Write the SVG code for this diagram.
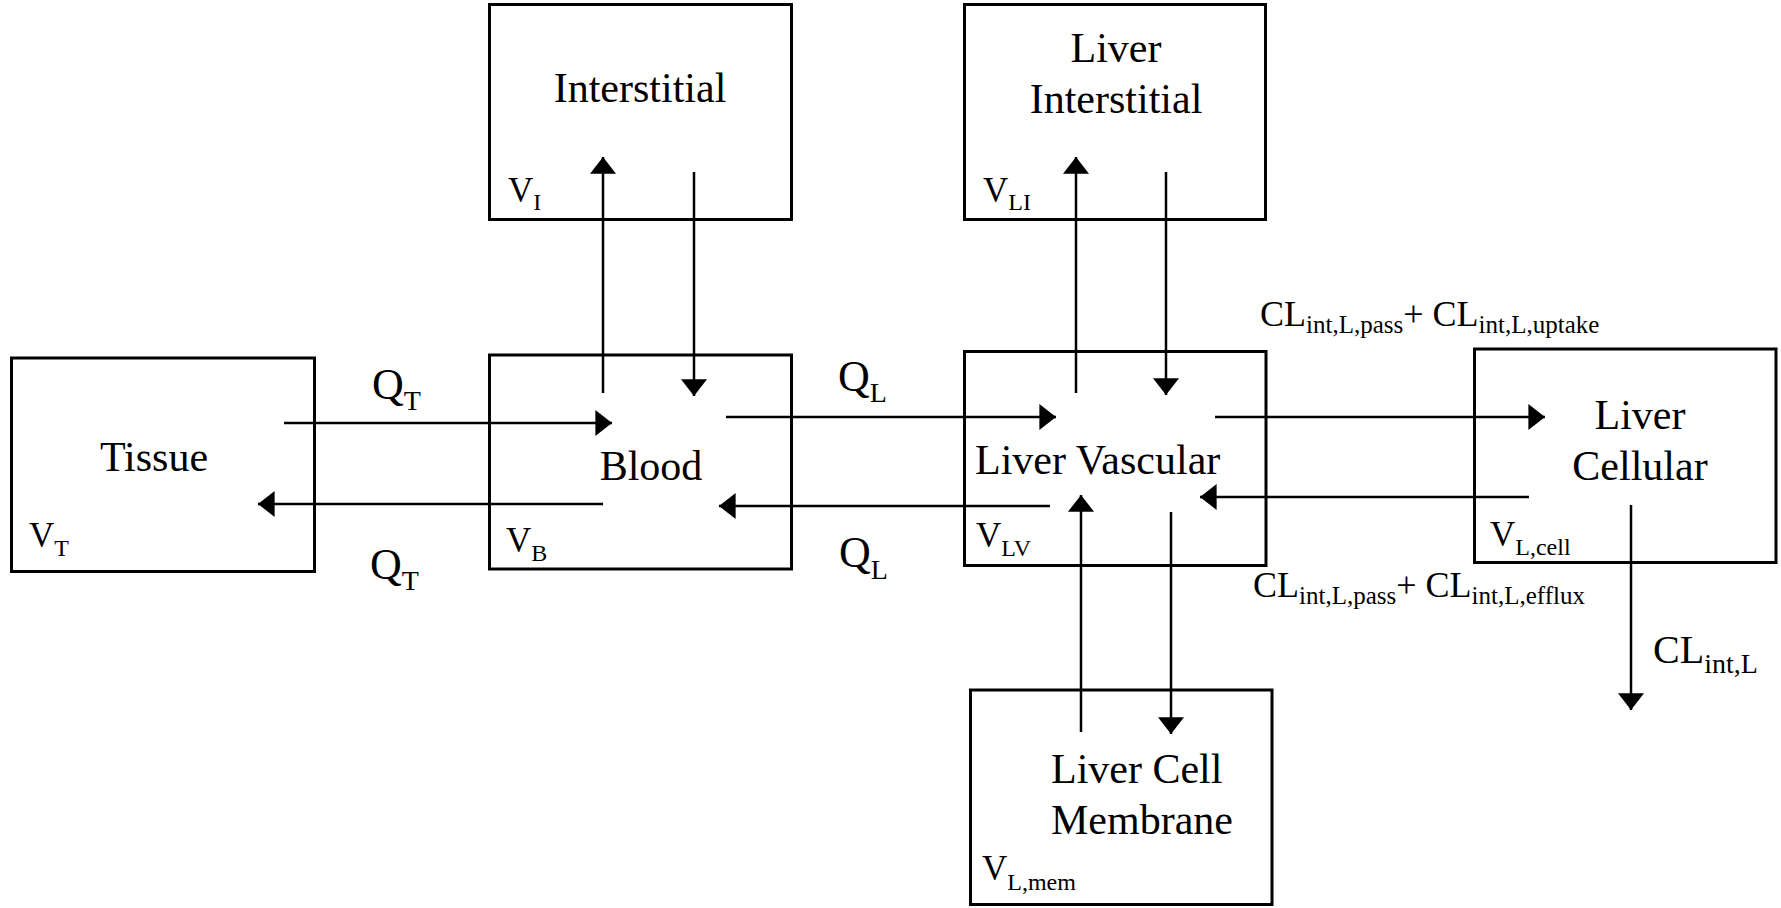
<svg xmlns="http://www.w3.org/2000/svg" width="1781" height="908" viewBox="0 0 1781 908">
<defs>
<marker id="ah" markerUnits="userSpaceOnUse" markerWidth="18" markerHeight="26" viewBox="0 0 16 25" refX="16" refY="12.5" orient="auto">
<path d="M0,0 L16,12.5 L0,25 Z" fill="#000"/>
</marker>
<style>
.box{fill:#fff;stroke:#000;stroke-width:3}
.t{font-family:"Liberation Serif","Times New Roman",serif;fill:#000}
.lab{font-size:42px}
.v{font-size:35px}
.vs{font-size:24px}
.q{font-size:44px}
.qs{font-size:28px}
.cl{font-size:36px}
.cls{font-size:25px}
.c{stroke:#000;stroke-width:2.5;fill:none;marker-end:url(#ah)}
</style>
</defs>
<rect width="1781" height="908" fill="#fff"/>
<g id="interstitial">
<rect class="box" x="489.5" y="4.5" width="302" height="215"/>
<text class="t lab" x="640" y="102" text-anchor="middle">Interstitial</text>
<text class="t v" x="508" y="202">V<tspan class="vs" dy="8">I</tspan></text>
</g>
<g id="liver-interstitial">
<rect class="box" x="964.5" y="4.5" width="301" height="215"/>
<text class="t lab" x="1116" y="62" text-anchor="middle">Liver</text>
<text class="t lab" x="1116" y="113" text-anchor="middle">Interstitial</text>
<text class="t v" x="983" y="202">V<tspan class="vs" dy="8">LI</tspan></text>
</g>
<g id="tissue">
<rect class="box" x="11.5" y="358" width="303" height="213.5"/>
<text class="t lab" x="154" y="471" text-anchor="middle">Tissue</text>
<text class="t v" x="29" y="547">V<tspan class="vs" dy="9">T</tspan></text>
</g>
<g id="blood">
<rect class="box" x="489.5" y="355" width="302" height="214"/>
<text class="t lab" x="651" y="480" text-anchor="middle">Blood</text>
<text class="t v" x="506" y="552">V<tspan class="vs" dy="9">B</tspan></text>
</g>
<g id="liver-vascular">
<rect class="box" x="964.5" y="351.5" width="301.5" height="214"/>
<text class="t lab" x="975" y="474">Liver Vascular</text>
<text class="t v" x="976" y="547">V<tspan class="vs" dy="9">LV</tspan></text>
</g>
<g id="liver-cellular">
<rect class="box" x="1474.5" y="349" width="301.5" height="213.5"/>
<text class="t lab" x="1640" y="429" text-anchor="middle">Liver</text>
<text class="t lab" x="1640" y="480" text-anchor="middle">Cellular</text>
<text class="t v" x="1490" y="546">V<tspan class="vs" dy="9">L,cell</tspan></text>
</g>
<g id="liver-cell-membrane">
<rect class="box" x="970.5" y="690" width="301.5" height="214.5"/>
<text class="t lab" x="1051" y="783">Liver Cell</text>
<text class="t lab" x="1051" y="834">Membrane</text>
<text class="t v" x="982" y="880">V<tspan class="vs" dy="10">L,mem</tspan></text>
</g>
<g id="connectors">
<line class="c" x1="284" y1="423" x2="612" y2="423"/>
<line class="c" x1="603" y1="504" x2="258" y2="504"/>
<line class="c" x1="726" y1="417" x2="1056" y2="417"/>
<line class="c" x1="1050" y1="506" x2="719" y2="506"/>
<line class="c" x1="603" y1="393" x2="603" y2="157"/>
<line class="c" x1="694" y1="172" x2="694" y2="396"/>
<line class="c" x1="1076" y1="393" x2="1076" y2="157"/>
<line class="c" x1="1166" y1="172" x2="1166" y2="395"/>
<line class="c" x1="1215" y1="417" x2="1545" y2="417"/>
<line class="c" x1="1529" y1="497" x2="1200" y2="497"/>
<line class="c" x1="1081" y1="732" x2="1081" y2="495"/>
<line class="c" x1="1171" y1="512" x2="1171" y2="734"/>
<line class="c" x1="1631" y1="505" x2="1631" y2="710"/>
</g>
<g id="labels">
<text class="t q" x="372" y="399">Q<tspan class="qs" dy="11">T</tspan></text>
<text class="t q" x="370" y="579">Q<tspan class="qs" dy="11">T</tspan></text>
<text class="t q" x="838" y="391">Q<tspan class="qs" dy="11">L</tspan></text>
<text class="t q" x="839" y="567">Q<tspan class="qs" dy="12">L</tspan></text>
<text class="t cl" x="1260" y="326">CL<tspan class="cls" dy="7">int,L,pass</tspan><tspan dy="-7">+ CL</tspan><tspan class="cls" dy="7">int,L,uptake</tspan></text>
<text class="t cl" x="1253" y="597">CL<tspan class="cls" dy="7">int,L,pass</tspan><tspan dy="-7">+ CL</tspan><tspan class="cls" dy="7">int,L,efflux</tspan></text>
<text class="t" style="font-size:40px" x="1653" y="663">CL<tspan style="font-size:28px" dy="10">int,L</tspan></text>
</g>
</svg>
